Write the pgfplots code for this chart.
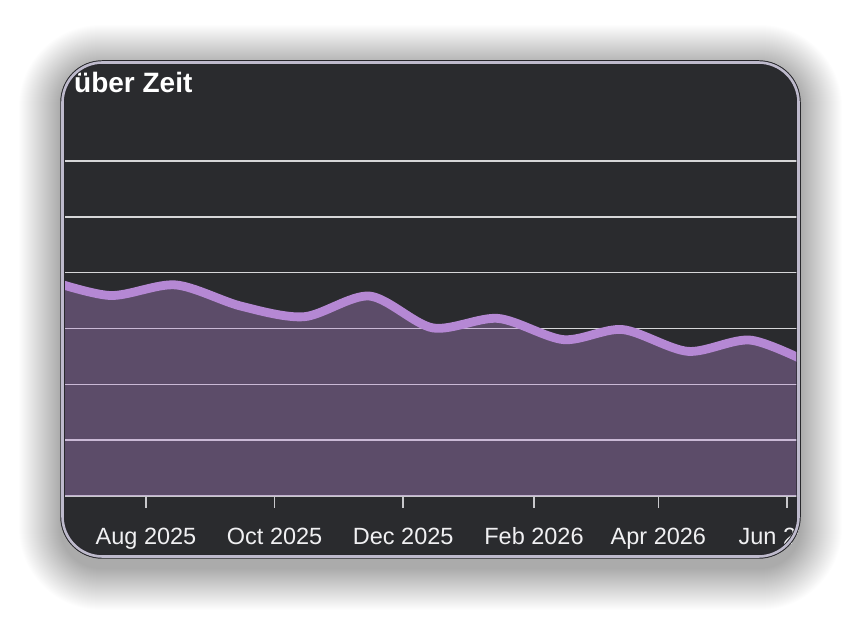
\documentclass[border=0pt]{standalone}
\usepackage{pgfplots}
\pgfplotsset{compat=1.18}
\usepackage{fontspec}
\setmainfont{Liberation Sans}
\definecolor{carddark}{RGB}{42,43,46}
\definecolor{linepurple}{RGB}{181,136,212}
\definecolor{gridgray}{RGB}{214,214,216}
\definecolor{tickgray}{RGB}{200,200,204}
\definecolor{borderlav}{RGB}{190,186,204}
\definecolor{outline}{RGB}{40,40,44}
\definecolor{labelwhite}{RGB}{240,240,242}
\begin{document}
\begin{tikzpicture}[x=1pt,y=1pt]
\path[use as bounding box] (0pt,0pt) rectangle (861pt,620pt);
\fill[white] (0pt,0pt) rectangle (861pt,620pt);
% soft shadow
\foreach \i in {1,...,42} {
  \pgfmathsetmacro\r{40+\i}
  \fill[black,opacity=0.0065,rounded corners=\r pt] (61pt-\i pt,52pt-\i pt) rectangle (800pt+\i pt,553pt+\i pt);
}
% card
\fill[carddark,rounded corners=40pt] (61pt,62pt) rectangle (800pt,559pt);
\begin{scope}
\clip[rounded corners=40pt] (61pt,62pt) rectangle (800pt,559pt);
\begin{axis}[
  at={(61pt,124pt)}, anchor=south west,
  scale only axis, width=739pt, height=363pt,
  xmin=-40.31, xmax=310.16, ymin=0, ymax=65,
  axis x line*=bottom, axis y line*=left,
  x axis line style={draw=tickgray, line width=2pt},
  y axis line style={draw=none},
  xtick={0,61,122,184,243,304},
  xticklabels={Aug 2025,Oct 2025,Dec 2025,Feb 2026,Apr 2026,Jun 2026},
  ytick={10,20,30,40,50,60},
  yticklabels={},
  ymajorgrids,
  major grid style={draw=gridgray, line width=1.6pt},
  tick align=outside, major tick length=12pt,
  xtick style={draw=tickgray, line width=1.6pt},
  ytick style={draw=none},
  xticklabel style={font=\fontsize{23.5}{28}\selectfont, text=labelwhite,
    text height=18pt, text depth=5pt, yshift=-15.3pt},
  clip=true,
]
\addplot[smooth, draw=none, fill=linepurple, fill opacity=0.36] coordinates {
  (-47,38.7) (-17,35.9) (14,37.8) (45,34.0) (75,32.1) (106,35.8)
  (136,30.1) (167,31.8) (198,28.0) (226,29.8) (257,25.9) (287,27.9) (318,23.2)
} \closedcycle;
\addplot[smooth, draw=linepurple, line width=8.8pt] coordinates {
  (-47,38.7) (-17,35.9) (14,37.8) (45,34.0) (75,32.1) (106,35.8)
  (136,30.1) (167,31.8) (198,28.0) (226,29.8) (257,25.9) (287,27.9) (318,23.2)
};
\end{axis}
\node[anchor=base west, inner sep=0pt, text=white, font=\bfseries\fontsize{28}{32}\selectfont] at (74pt,527.7pt) {über Zeit};
\end{scope}
% border
\draw[outline, line width=4.5pt, rounded corners=40pt] (62.5pt,63.5pt) rectangle (798.5pt,557.5pt);
\draw[borderlav, line width=2.6pt, rounded corners=40pt] (62.5pt,63.5pt) rectangle (798.5pt,557.5pt);
\end{tikzpicture}
\end{document}
